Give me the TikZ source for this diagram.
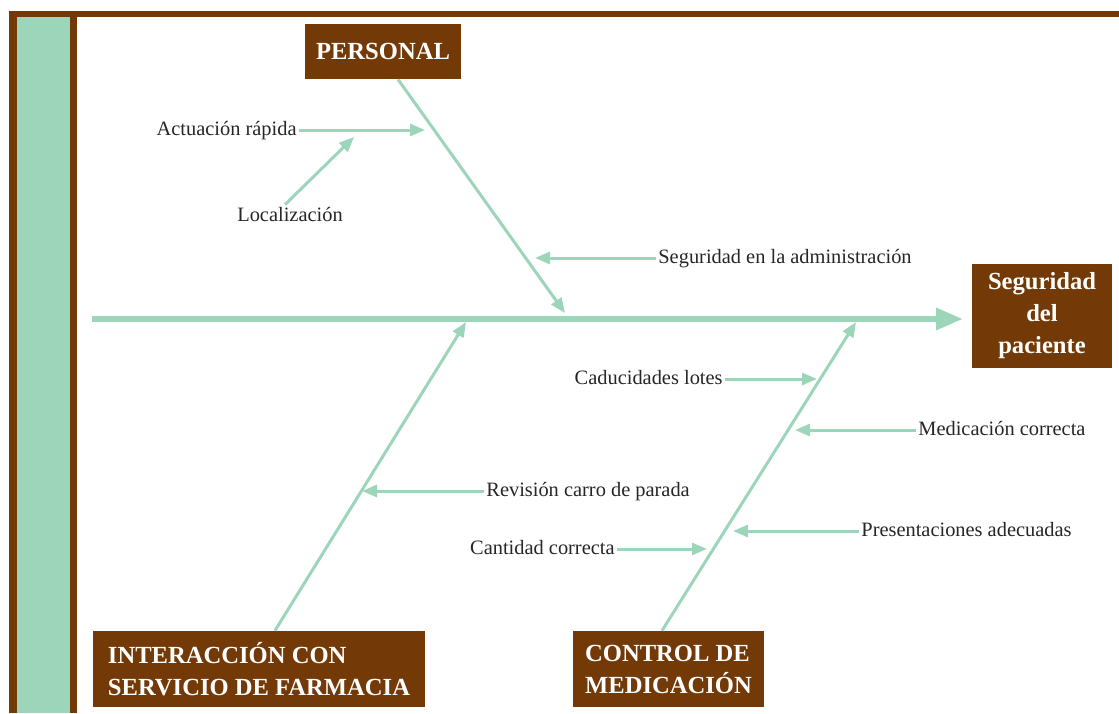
\documentclass[tikz,border=0pt]{standalone}
\usepackage{fontspec}
\setmainfont{Liberation Serif}
\usetikzlibrary{arrows.meta,positioning}
\definecolor{fishbrown}{RGB}{115,58,8}
\definecolor{fishgreen}{RGB}{157,213,186}
\definecolor{labelgray}{RGB}{38,38,38}

\begin{document}
\begin{tikzpicture}[x=0.5pt,y=-0.5pt,
  catbox/.style={fill=fishbrown, text=white, inner sep=0pt,
    font=\bfseries\fontsize{12.3}{16}\selectfont},
  cause/.style={text=labelgray, inner sep=1pt, text height=7pt, text depth=2pt,
    font=\fontsize{10.2}{12}\selectfont},
  spine/.style={fishgreen, line width=3pt, -{Triangle[length=13.5pt,width=10.5pt]}},
  bone/.style={fishgreen, line width=1.5pt, -{Triangle[length=7.5pt,width=6pt]}}]
  \useasboundingbox (0,0) rectangle (1119,713);

  % Frame
  \fill[fishbrown] (9,11) rectangle (1119,17);
  \fill[fishbrown] (9,11) rectangle (77,713);
  \fill[fishgreen] (17,17) rectangle (70,713);

  % Head and categories
  \node[catbox, minimum width=70pt, minimum height=52pt, align=center]
    (head) at (1042,316) {Seguridad\\del\\paciente};
  \node[catbox, minimum width=78pt, minimum height=27.5pt, align=center]
    (personal) at (383,51.5) {PERSONAL};
  \node[catbox, minimum width=166pt, minimum height=38pt, align=left]
    (farmacia) at (259,669) {INTERACCIÓN CON\\SERVICIO DE FARMACIA};
  \node[catbox, minimum width=95.5pt, minimum height=38pt, align=left]
    (control) at (668.5,669) {CONTROL DE\\MEDICACIÓN};

  % Spine and main bones
  \coordinate (tail) at (92,319);
  \coordinate (tip) at (963,319);
  \coordinate (jp) at (565,313);
  \coordinate (jf) at (466,322);
  \coordinate (jc) at (856,322);
  \draw[spine] (tail) -- (tip);
  \draw[bone] ([xshift=7.5pt]personal.south) -- (jp);
  \draw[bone] ([xshift=8pt]farmacia.north) -- (jf);
  \draw[bone] ([xshift=-3.25pt]control.north) -- (jc);

  % Causes
  \node[cause, anchor=east] (actuacion) at (299,130) {Actuación rápida};
  \node[cause] (localizacion) at (290,216) {Localización};
  \node[cause, anchor=west] (admin) at (656,258) {Seguridad en la administración};
  \node[cause, anchor=east] (caducidades) at (725,379) {Caducidades lotes};
  \node[cause, anchor=west] (medicacion) at (916,430) {Medicación correcta};
  \node[cause, anchor=west] (revision) at (484,491) {Revisión carro de parada};
  \node[cause, anchor=west] (presentaciones) at (859,531) {Presentaciones adecuadas};
  \node[cause, anchor=east] (cantidad) at (617,549) {Cantidad correcta};

  \coordinate (tactuacion) at (425,130);
  \coordinate (tlocalizacion) at (354,137);
  \coordinate (tadmin) at (535,258);
  \coordinate (tcaducidades) at (817,379);
  \coordinate (tmedicacion) at (795,430);
  \coordinate (trevision) at (362,491);
  \coordinate (tpresentaciones) at (733,531);
  \coordinate (tcantidad) at (707,549);

  \draw[bone] (actuacion.east) -- (tactuacion);
  \draw[bone] ([xshift=-2.5pt]localizacion.north) -- (tlocalizacion);
  \draw[bone] (admin.west) -- (tadmin);
  \draw[bone] (caducidades.east) -- (tcaducidades);
  \draw[bone] (medicacion.west) -- (tmedicacion);
  \draw[bone] (revision.west) -- (trevision);
  \draw[bone] (presentaciones.west) -- (tpresentaciones);
  \draw[bone] (cantidad.east) -- (tcantidad);
\end{tikzpicture}
\end{document}
